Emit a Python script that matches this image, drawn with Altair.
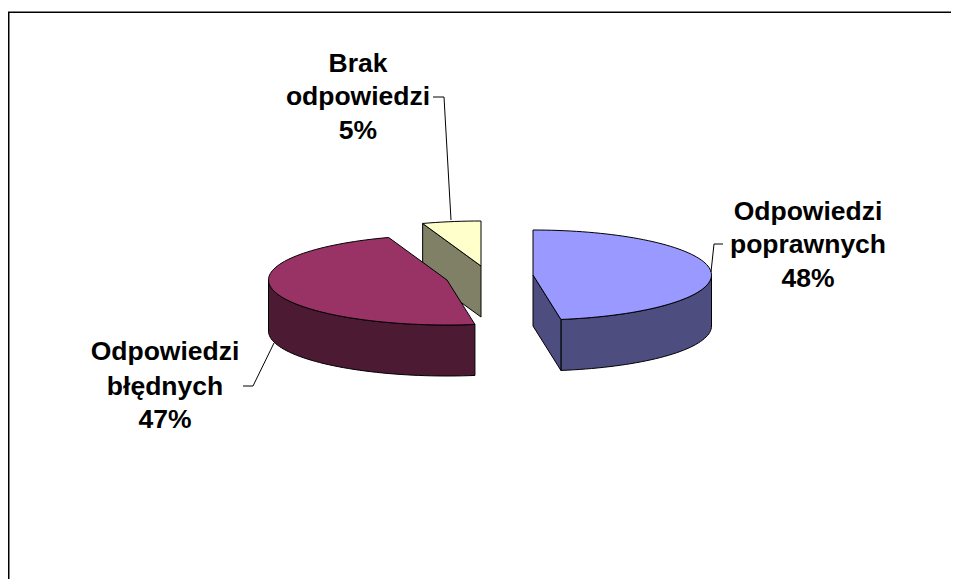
import math
import altair as alt

# Values (labels are rounded shares)
categories = ["Odpowiedzi poprawnych", "Odpowiedzi błędnych", "Brak odpowiedzi"]
shares = [47.5, 47.2, 5.3]
label_lines = [
    ["Odpowiedzi", "poprawnych", "48%"],
    ["Odpowiedzi", "błędnych", "47%"],
    ["Brak", "odpowiedzi", "5%"],
]
top_colors = ["#9999FF", "#993366", "#FFFFCC"]
side_colors = ["#4D4D80", "#4D1A33", "#808066"]

# Layout of the exploded 3-D pie, in page pixels
centers = [(533, 275), (447, 280), (481, 266)]
RX, RY, DEPTH = 178.5, 45, 51
label_pos = [
    (808, [220, 253, 287]),
    (165, [360, 395, 428]),
    (358, [72, 105, 139]),
]
leaders = [
    [(723, 244), (714, 244), (711, 272)],
    [(243, 386), (253, 386), (274, 343)],
    [(433, 97), (444, 97), (451, 220)],
]
FONT_SIZE = 26.5
OX, OY = 8, 8  # page margin
W, H = 943, 571


def rim(c, a0, a1, dy=0):
    n = max(2, int(abs(a1 - a0) / 2))
    pts = []
    for i in range(n + 1):
        a = math.radians(a0 + (a1 - a0) * i / n)
        pts.append([c[0] + RX * math.sin(a), c[1] - RY * math.cos(a) + dy])
    return pts


def feature(pts, fill, order):
    return {
        "type": "Feature",
        "geometry": {"type": "Polygon", "coordinates": [pts + [pts[0]]]},
        "properties": {"fill": fill, "order": order},
    }


spans, acc = [], 0.0
for s in shares:
    spans.append((acc * 3.6, (acc + s) * 3.6))
    acc += s

features = []
# Brak odpowiedzi: the cut face seen from the left, then the top
c, (a0, a1) = centers[2], spans[2]
p = rim(c, a0, a0 + 1)[0]
features.append(feature([p, list(c), [c[0], c[1] + DEPTH], [p[0], p[1] + DEPTH]], side_colors[2], 0))
features.append(feature([list(c)] + rim(c, a0, a1), top_colors[2], 1))
# Odpowiedzi błędnych: outer wall (front part of the rim), then the top
c, (a0, a1) = centers[1], spans[1]
wall = rim(c, a0, 270)
features.append(feature(wall + [[x, y + DEPTH] for x, y in reversed(wall)], side_colors[1], 2))
features.append(feature([list(c)] + rim(c, a0, a1), top_colors[1], 3))
# Odpowiedzi poprawnych: outer wall and cut face, then the top
c, (a0, a1) = centers[0], spans[0]
wall = rim(c, 90, a1)
features.append(feature(wall + [[x, y + DEPTH] for x, y in reversed(wall)], side_colors[0], 4))
e = wall[-1]
features.append(feature([list(c), e, [e[0], e[1] + DEPTH], [c[0], c[1] + DEPTH]], side_colors[0], 5))
features.append(feature([list(c)] + rim(c, a0, a1), top_colors[0], 6))

pie = (
    alt.Chart(alt.Data(values=features))
    .mark_geoshape(stroke="#000000", strokeWidth=1)
    .encode(fill=alt.Fill("properties.fill:N", scale=None))
    .project(type="identity", scale=1, translate=[-OX, -OY])
)

rows = []
for lines, (cx, ys) in zip(label_lines, label_pos):
    for t, y in zip(lines, ys):
        rows.append({"t": t, "px": cx - OX, "py": y - OY})
labels = (
    alt.Chart(alt.Data(values=rows))
    .mark_text(font="Liberation Sans", fontWeight="bold", fontSize=FONT_SIZE,
               align="center", baseline="alphabetic", color="#000000")
    .encode(x=alt.X("px:Q", scale=None), y=alt.Y("py:Q", scale=None), text="t:N")
)

seg_rows = []
for i, pts in enumerate(leaders):
    for j, (x, y) in enumerate(pts):
        seg_rows.append({"g": i, "o": j, "px": x - OX, "py": y - OY})
leader_lines = (
    alt.Chart(alt.Data(values=seg_rows))
    .mark_line(color="#000000", strokeWidth=1)
    .encode(x=alt.X("px:Q", scale=None), y=alt.Y("py:Q", scale=None),
            detail="g:N", order="o:Q")
)

frame_rows = [
    {"o": 0, "px": 0.75, "py": H},
    {"o": 1, "px": 0.75, "py": 4.25},
    {"o": 2, "px": W, "py": 4.25},
]
frame = (
    alt.Chart(alt.Data(values=frame_rows))
    .mark_line(color="#000000", strokeWidth=1.5)
    .encode(x=alt.X("px:Q", scale=None), y=alt.Y("py:Q", scale=None), order="o:Q")
)

chart = (
    alt.layer(frame, pie, leader_lines, labels)
    .properties(width=W, height=H, padding=0,
                autosize=alt.AutoSizeParams(type="none"))
    .configure_view(stroke=None)
    .configure_axis(disable=True)
)
chart.save("out.html", embed_options={"renderer": "svg", "actions": False})
